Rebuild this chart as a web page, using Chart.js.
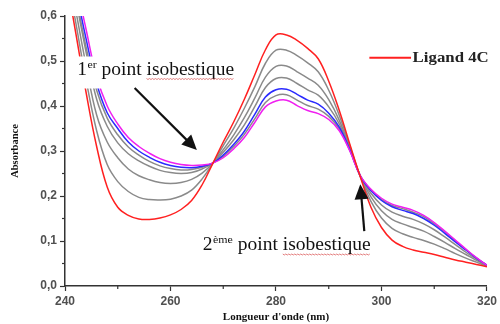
<!DOCTYPE html>
<html>
<head>
<meta charset="utf-8">
<script src="https://cdn.jsdelivr.net/npm/chart.js@4.4.0/dist/chart.umd.min.js"></script>
<style>
html,body{margin:0;padding:0;background:#fff}
#wrap{width:500px;height:324px}
</style>
</head>
<body>
<div id="wrap"><canvas id="chart" width="500" height="324"></canvas></div>
<script>
// wavelengths (nm)
const wavelengths = [240,242,244,246,248,250,252,254,256,258,260,262,264,266,268,270,272,274,276,278,280,282,284,286,288,290,292,294,296,298,300,302,304,306,308,310,312,314,316,318,320];

// absorbance of each spectrum
const ligand4C = [0.70,0.565,0.43,0.31,0.22,0.175,0.157,0.149,0.148,0.151,0.158,0.17,0.19,0.225,0.272,0.32,0.365,0.415,0.47,0.525,0.558,0.558,0.546,0.528,0.505,0.455,0.39,0.315,0.242,0.175,0.13,0.102,0.088,0.08,0.075,0.07,0.064,0.058,0.053,0.048,0.043];
const gray1 = [0.72,0.588,0.458,0.345,0.27,0.232,0.21,0.197,0.192,0.191,0.193,0.20,0.213,0.238,0.272,0.312,0.351,0.395,0.443,0.495,0.524,0.524,0.512,0.496,0.476,0.435,0.379,0.311,0.243,0.188,0.151,0.128,0.116,0.108,0.101,0.093,0.083,0.072,0.062,0.053,0.044];
const gray2 = [0.74,0.615,0.49,0.38,0.32,0.285,0.26,0.245,0.236,0.23,0.228,0.23,0.237,0.251,0.273,0.303,0.336,0.374,0.418,0.464,0.488,0.489,0.476,0.462,0.446,0.414,0.368,0.308,0.243,0.198,0.167,0.148,0.138,0.13,0.122,0.11,0.097,0.083,0.07,0.057,0.045];
const gray3 = [0.76,0.64,0.52,0.415,0.355,0.318,0.294,0.278,0.266,0.257,0.252,0.25,0.252,0.26,0.273,0.297,0.325,0.358,0.399,0.441,0.461,0.462,0.45,0.436,0.424,0.398,0.36,0.305,0.244,0.206,0.18,0.164,0.155,0.148,0.138,0.125,0.109,0.092,0.075,0.06,0.045];
const gray4 = [0.772,0.648,0.531,0.435,0.373,0.336,0.309,0.291,0.277,0.267,0.261,0.258,0.259,0.264,0.273,0.288,0.31,0.337,0.372,0.408,0.423,0.425,0.413,0.401,0.393,0.377,0.349,0.301,0.245,0.213,0.192,0.179,0.172,0.164,0.154,0.138,0.12,0.10,0.081,0.062,0.046];
const blue = [0.785,0.663,0.549,0.45,0.385,0.35,0.32,0.30,0.286,0.275,0.268,0.264,0.263,0.266,0.273,0.291,0.315,0.344,0.382,0.42,0.436,0.437,0.426,0.413,0.404,0.384,0.353,0.303,0.244,0.212,0.19,0.176,0.168,0.161,0.15,0.135,0.117,0.098,0.08,0.062,0.046];
const magenta = [0.80,0.68,0.57,0.465,0.40,0.36,0.33,0.31,0.295,0.283,0.275,0.27,0.268,0.269,0.273,0.285,0.305,0.33,0.364,0.398,0.411,0.413,0.401,0.39,0.383,0.37,0.345,0.30,0.245,0.215,0.195,0.182,0.175,0.168,0.157,0.141,0.122,0.102,0.082,0.063,0.046];

// minor tick positions
const minorWave = [250,270,290,310];
const minorAbs = [0.05,0.15,0.25,0.35,0.45,0.55];

const pts = arr => wavelengths.map((w,i)=>({x:w,y:arr[i]}));
const line = (label,arr,color)=>({label,data:pts(arr),borderColor:color,borderWidth:1.5,pointRadius:0,fill:false,tension:0.4});

const serif = '"Liberation Serif", "Times New Roman", serif';

function arrow(ctx,x1,y1,x2,y2){
  const a=Math.atan2(y2-y1,x2-x1), hl=15, hw=7;
  ctx.strokeStyle='#111'; ctx.fillStyle='#111'; ctx.lineWidth=2.2;
  ctx.beginPath(); ctx.moveTo(x1,y1); ctx.lineTo(x2-Math.cos(a)*hl*0.8,y2-Math.sin(a)*hl*0.8); ctx.stroke();
  ctx.beginPath();
  ctx.moveTo(x2,y2);
  ctx.lineTo(x2-Math.cos(a)*hl+Math.sin(a)*hw, y2-Math.sin(a)*hl-Math.cos(a)*hw);
  ctx.lineTo(x2-Math.cos(a)*hl-Math.sin(a)*hw, y2-Math.sin(a)*hl+Math.cos(a)*hw);
  ctx.closePath(); ctx.fill();
}

// "1er point isobestique" style label, stretched to a width
function label(ctx,x0,yb,main,sup,rest,width,box){
  ctx.font='18px '+serif;
  let w = ctx.measureText(main).width + ctx.measureText(rest).width;
  ctx.font='11px '+serif; w += ctx.measureText(sup).width + 0.5;
  const sx = width / w;
  if(box){ ctx.fillStyle='#fff'; ctx.fillRect(x0-9,yb-18,width+14,32); }
  ctx.save(); ctx.translate(x0,yb); ctx.scale(sx,1);
  ctx.fillStyle='#111'; ctx.textBaseline='alphabetic'; ctx.textAlign='left';
  ctx.font='18px '+serif; ctx.fillText(main,0,0);
  let cx = ctx.measureText(main).width;
  ctx.font='11px '+serif; ctx.fillText(sup,cx+0.5,-7);
  cx += ctx.measureText(sup).width+0.5;
  ctx.font='18px '+serif; ctx.fillText(rest,cx,0);
  const k = rest.indexOf('isobestique');
  const ux = cx + ctx.measureText(rest.slice(0,k)).width;
  const uw = ctx.measureText('isobestique').width;
  ctx.restore();
  // spell-check squiggle
  ctx.strokeStyle='#e07070'; ctx.lineWidth=0.9; ctx.beginPath();
  const s = x0+ux*sx, e = x0+(ux+uw)*sx;
  for(let p=s, i=0; p<=e; p+=1.5, i++){ const yy = yb+4+(i%2?1:0); if(i===0) ctx.moveTo(p,yy); else ctx.lineTo(p,yy); }
  ctx.stroke();
}

const extras = {
  id:'extras',
  afterDatasetsDraw(chart){
    const {ctx, scales:{x,y}} = chart;
    const X = v=>x.getPixelForValue(v), Y = v=>y.getPixelForValue(v);
    ctx.save();
    // minor ticks
    ctx.strokeStyle='#333'; ctx.lineWidth=1.2;
    minorWave.forEach(w=>{ctx.beginPath();ctx.moveTo(X(w),y.bottom);ctx.lineTo(X(w),y.bottom+3);ctx.stroke();});
    minorAbs.forEach(a=>{ctx.beginPath();ctx.moveTo(x.left,Y(a));ctx.lineTo(x.left-3,Y(a));ctx.stroke();});

    // annotations
    label(ctx,X(242.3),Y(0.470),'1','er',' point isobestique',157,true);
    arrow(ctx,X(253.2),Y(0.44),X(265.0),Y(0.302));
    label(ctx,X(266.1),Y(0.080),'2','ème',' point isobestique',168,false);
    arrow(ctx,X(296.74),Y(0.122),X(295.98),Y(0.226));

    // legend
    const ds = chart.data.datasets[0];
    const ly = Y(0.507);
    ctx.strokeStyle=ds.borderColor; ctx.lineWidth=2;
    ctx.beginPath(); ctx.moveTo(X(297.7),ly); ctx.lineTo(X(305.6),ly); ctx.stroke();
    ctx.save(); ctx.translate(X(305.9),ly); ctx.scale(1.2,1);
    ctx.font='bold 14px '+serif; ctx.fillStyle='#222'; ctx.textBaseline='middle';
    ctx.fillText(ds.label,0,0.5);
    ctx.restore();
    ctx.restore();
  }
};

new Chart(document.getElementById('chart'),{
  type:'line',
  data:{datasets:[
    line('Ligand 4C',ligand4C,'#ff2020'),
    line('6',magenta,'#f020f0'),
    line('5',blue,'#2a2aff'),
    line('4',gray4,'#8a8a8a'),
    line('3',gray3,'#8a8a8a'),
    line('2',gray2,'#8a8a8a'),
    line('1',gray1,'#8a8a8a')
  ]},
  options:{
    responsive:false,
    animation:false,
    layout:{padding:{top:16,right:12,left:0,bottom:0}},
    plugins:{legend:{display:false},tooltip:{enabled:false}},
    scales:{
      x:{
        type:'linear',min:240,max:320,
        afterFit:s=>{s.height=38;},
        border:{display:true,color:'#333',width:1.5},
        grid:{display:true,drawOnChartArea:false,tickLength:5,tickColor:'#333',tickWidth:1.2},
        ticks:{stepSize:20,padding:3,color:'#505050',font:{family:'"Liberation Sans", Arial, sans-serif',size:12,weight:'bold'}},
        title:{display:true,text:"Longueur d'onde (nm)",color:'#111',padding:{top:0,bottom:0},font:{family:serif,size:11,weight:'bold'}}
      },
      y:{
        min:0,max:0.6,
        afterFit:s=>{s.width=65;},
        border:{display:true,color:'#333',width:1.5},
        grid:{display:true,drawOnChartArea:false,tickLength:5,tickColor:'#333',tickWidth:1.2},
        ticks:{stepSize:0.1,padding:3,color:'#505050',font:{family:'"Liberation Sans", Arial, sans-serif',size:12,weight:'bold'},
          callback:v=>v.toFixed(1).replace('.',',')},
        title:{display:true,text:'Absorbance',color:'#111',padding:{top:8.5,bottom:0},font:{family:serif,size:10.5,weight:'bold'}}
      }
    }
  },
  plugins:[extras]
});
</script>
</body>
</html>
